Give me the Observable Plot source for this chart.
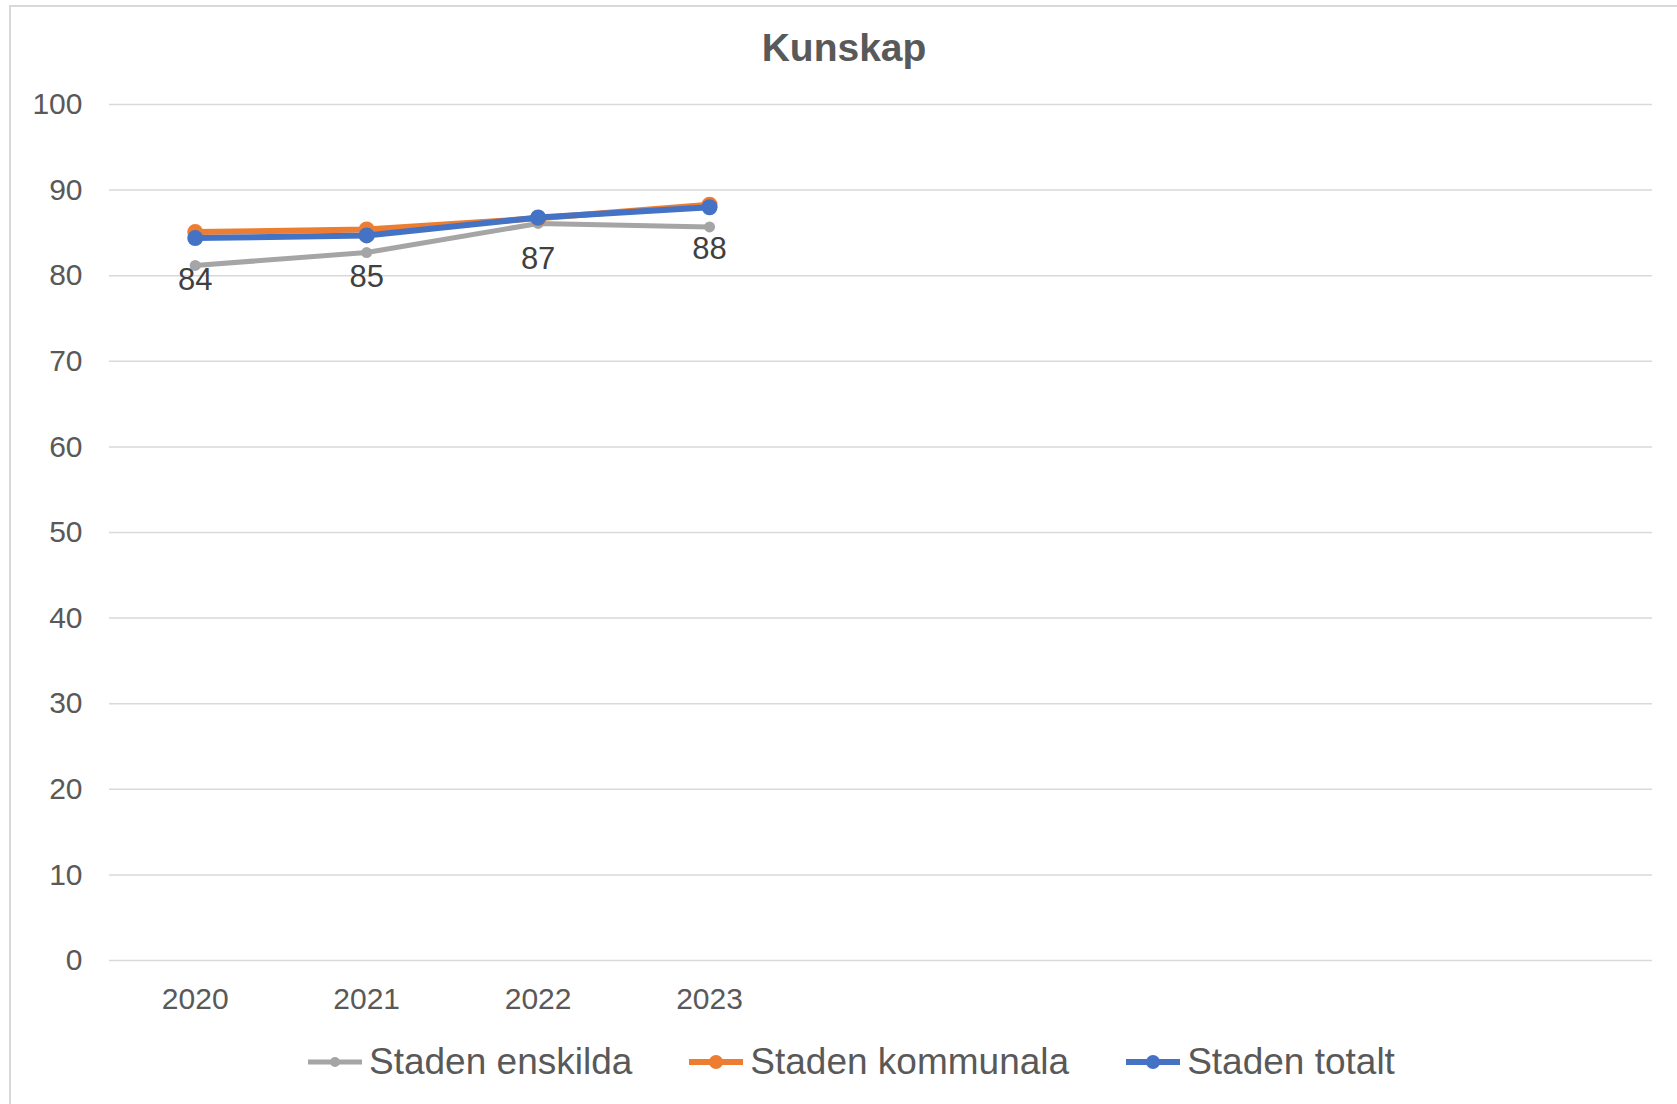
<!DOCTYPE html>
<html>
<head>
<meta charset="utf-8">
<script src="https://cdn.jsdelivr.net/npm/d3@7"></script>
<script src="https://cdn.jsdelivr.net/npm/@observablehq/plot@0.6"></script>
<style>
  html, body { margin: 0; padding: 0; background: #fff; overflow: hidden; }
  body { width: 1677px; height: 1104px; position: relative; font-family: "Liberation Sans", Arial, sans-serif; }
  #frame { position: absolute; left: 9px; top: 5px; width: 1700px; height: 1130px; border: 2px solid #d9d9d9; box-sizing: border-box; }
  #title { position: absolute; left: 0; top: 0; width: 1688px; height: 96px; line-height: 96px; text-align: center; font-weight: bold; font-size: 39px; color: #595959; }
  #chart { position: absolute; left: 0; top: 80px; }
  #legend { position: absolute; left: 308px; top: 1030px; height: 64px; display: flex; align-items: center; gap: 57px; font-size: 37px; color: #595959; }
  .item { display: flex; align-items: center; gap: 7px; }
</style>
</head>
<body>
<div id="frame"></div>
<div id="title">Kunskap</div>
<div id="chart"></div>
<div id="legend"></div>
<script>
// ---- data ----
const years = ["2020", "2021", "2022", "2023"];
const tickLabels = ["2020", "2021", "2022", "2023", "", "", "", "", ""];
const enskilda = [81.2, 82.7, 86.1, 85.7];
const kommunala = [85.1, 85.4, 86.7, 88.3];
const totalt = [84.4, 84.7, 86.8, 88.0];
const seriesNames = ["Staden enskilda", "Staden kommunala", "Staden totalt"];
const seriesColors = ["#a5a5a5", "#ed7d31", "#4472c4"];
const yTicks = [0, 10, 20, 30, 40, 50, 60, 70, 80, 90, 100];

const toRows = (vals) => vals.map((v, i) => ({ i, v }));
const rowsE = toRows(enskilda), rowsK = toRows(kommunala), rowsT = toRows(totalt);

const chart = Plot.plot({
  width: 1677,
  height: 950,
  marginLeft: 109,
  marginRight: 25,
  marginTop: 24,
  marginBottom: 70,
  style: { color: "#595959", fontFamily: "Liberation Sans, Arial, sans-serif", background: "transparent" },
  x: { type: "point", domain: d3.range(tickLabels.length), padding: 0.5, align: 0.5, round: false },
  y: { domain: [0, 100] },
  marks: [
    Plot.ruleY(yTicks, { stroke: "#d9d9d9", strokeWidth: 1.5 }),
    Plot.axisY({ ticks: yTicks, tickSize: 0, tickPadding: 27, fontSize: 30, label: null }),
    Plot.axisX({ tickSize: 0, tickPadding: 27, fontSize: 30, label: null, tickFormat: (i) => tickLabels[i] }),
    Plot.line(rowsE, { x: "i", y: "v", stroke: seriesColors[0], strokeWidth: 5 }),
    Plot.dot(rowsE, { x: "i", y: "v", fill: seriesColors[0], r: 5.5 }),
    Plot.line(rowsK, { x: "i", y: "v", stroke: seriesColors[1], strokeWidth: 6 }),
    Plot.dot(rowsK, { x: "i", y: "v", fill: seriesColors[1], r: 8 }),
    Plot.line(rowsT, { x: "i", y: "v", stroke: seriesColors[2], strokeWidth: 6 }),
    Plot.dot(rowsT, { x: "i", y: "v", fill: seriesColors[2], r: 8 }),
    Plot.text(rowsT, { x: "i", y: "v", text: (d) => String(Math.round(d.v)), dy: 42, fontSize: 31, fill: "#404040" })
  ]
});
document.getElementById("chart").appendChild(chart);

// legend
const legend = document.getElementById("legend");
seriesNames.forEach((name, k) => {
  const item = document.createElement("div");
  item.className = "item";
  const r = k === 0 ? 5 : 7;
  item.innerHTML = `<svg width="54" height="20"><line x1="0" y1="10" x2="54" y2="10" stroke="${seriesColors[k]}" stroke-width="${k === 0 ? 5 : 6}"/><circle cx="27" cy="10" r="${r}" fill="${seriesColors[k]}"/></svg><span>${name}</span>`;
  legend.appendChild(item);
});
</script>
</body>
</html>
